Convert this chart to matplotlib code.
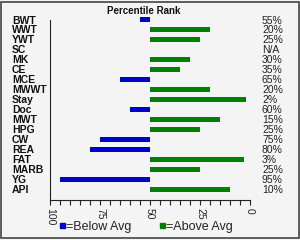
import numpy as np
import matplotlib
matplotlib.use('Agg')
import matplotlib.pyplot as plt
from matplotlib.patches import Rectangle

# data
traits = ['BWT', 'WWT', 'YWT', 'SC', 'MK', 'CE', 'MCE', 'MWWT', 'Stay', 'Doc',
          'MWT', 'HPG', 'CW', 'REA', 'FAT', 'MARB', 'YG', 'API']
rank = [55, 20, 25, None, 30, 35, 65, 20, 2, 60, 15, 25, 75, 80, 3, 25, 95, 10]
rank_labels = ['55%', '20%', '25%', 'N/A', '30%', '35%', '65%', '20%', '2%', '60%',
               '15%', '25%', '75%', '80%', '3%', '25%', '95%', '10%']
xticks = [100, 75, 50, 25, 0]

blue = '#0000cc'
green = '#008000'
bg = '#f4f4f4'
font = 'Liberation Sans'

W, H = 300, 240
fig = plt.figure(figsize=(3, 2.4), dpi=100, facecolor=bg)
# axes: x from 50px to 250px, y from 15px to 200px
ax = fig.add_axes([50 / W, 1 - 200 / H, 200 / W, 185 / H])
ax.set_facecolor(bg)

y = np.arange(len(traits))
for i, r in enumerate(rank):
    if r is None:
        continue
    c = blue if r > 50 else green
    ax.barh(y[i], r - 50, left=50, height=0.5, color=c)

ax.set_xlim(100, 0)
ax.set_ylim(17 + 10 / 9.97, -0.45)
ax.set_yticks([])
ax.set_xticks(xticks)
ax.set_xticks(np.arange(0, 101, 5), minor=True)
ax.set_xticklabels([str(t) for t in xticks], rotation=-90, fontsize=7.5,
                   family=font, color='#222222')
ax.tick_params(axis='x', which='both', direction='out', length=3.5, width=0.8,
               pad=2, color='#222222')
for s in ['top', 'right']:
    ax.spines[s].set_visible(False)
for s in ['left', 'bottom']:
    ax.spines[s].set_linewidth(0.8)
    ax.spines[s].set_color('#222222')
ax.spines['left'].set_bounds(17 + 10 / 9.97, 0.05)

# row labels and percentages
for i in range(len(traits)):
    yy = 1 - (20.5 + i * 9.97) / H
    fig.text(12 / W, yy, traits[i], ha='left', va='center', fontsize=7.5,
             fontweight='bold', family=font, color='#111111')
    fig.text(262 / W, yy, rank_labels[i], ha='left', va='center', fontsize=7.5,
             family=font, color='#222222')

fig.text(143.5 / W, 1 - 11 / H, 'Percentile Rank', ha='center', va='center',
         fontsize=7, fontweight='bold', family=font, color='#111111')

# legend
for x0, c, txt in [(60, blue, '=Below Avg'), (160, green, '=Above Avg')]:
    fig.patches.append(Rectangle((x0 / W, 1 - 228 / H), 4.5 / W, 5 / H,
                                 transform=fig.transFigure, color=c))
    fig.text((x0 + 6) / W, 1 - 227 / H, txt, ha='left', va='center',
             fontsize=9, family=font, color='#222222')

# outer border
fig.patches.append(Rectangle((0.5 / W, 2.5 / H), 298 / W, 236 / H,
                             transform=fig.transFigure, fill=False,
                             edgecolor='#444444', linewidth=1.2))

fig.savefig('out.png', dpi=100, facecolor=bg)
